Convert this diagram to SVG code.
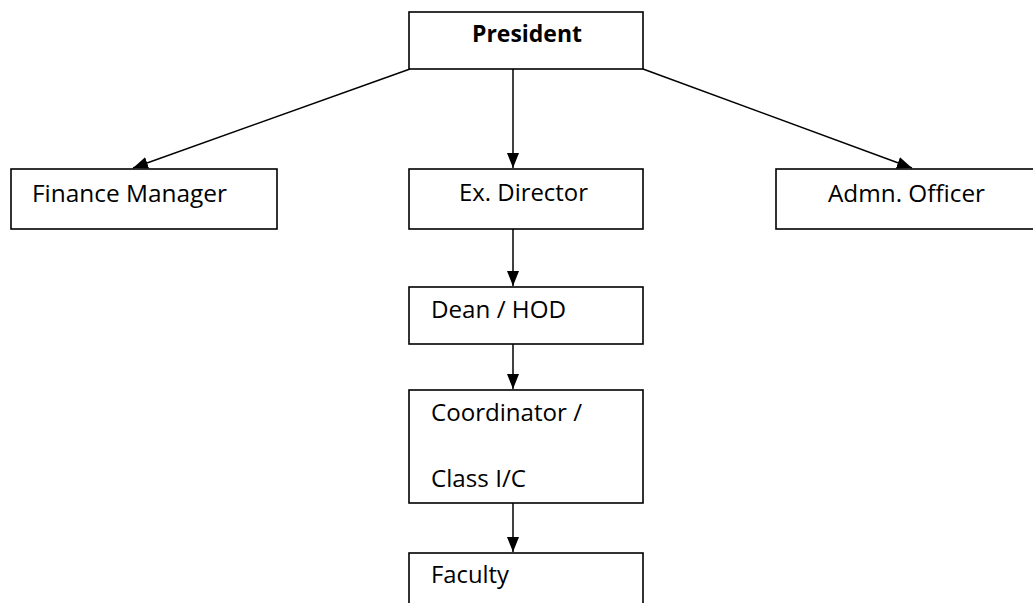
<svg xmlns="http://www.w3.org/2000/svg" width="1033" height="603" viewBox="0 0 1033 603">
<style>
.box{fill:#fff;stroke:#000;stroke-width:1.6}
.t{font-family:"Open Sans","Liberation Sans",sans-serif;font-size:24px;fill:#000}
.b{font-weight:bold}
.c{stroke:#000;stroke-width:1.5;fill:none;marker-end:url(#ah)}
</style>
<defs>
<marker id="ah" markerUnits="userSpaceOnUse" markerWidth="16" markerHeight="14" refX="15" refY="6" orient="auto">
<path d="M0,0 L15,6 L0,12 Z" fill="#000"/>
</marker>
</defs>
<rect width="1033" height="603" fill="#fff"/>
<g id="connectors">
<line class="c" x1="410" y1="69" x2="133" y2="168"/>
<line class="c" x1="513" y1="69" x2="513" y2="168"/>
<line class="c" x1="643" y1="69" x2="912" y2="168"/>
<line class="c" x1="513" y1="229" x2="513" y2="286"/>
<line class="c" x1="513" y1="344" x2="513" y2="389"/>
<line class="c" x1="513" y1="503" x2="513" y2="552"/>
</g>
<g id="president">
<rect class="box" x="409" y="12" width="234" height="57"/>
<text class="t b" x="472" y="42" textLength="110" lengthAdjust="spacingAndGlyphs">President</text>
</g>
<g id="finance">
<rect class="box" x="11" y="169" width="266" height="60"/>
<text class="t" x="32" y="202" textLength="195" lengthAdjust="spacingAndGlyphs">Finance Manager</text>
</g>
<g id="exdirector">
<rect class="box" x="409" y="169" width="234" height="60"/>
<text class="t" x="459" y="201" textLength="129" lengthAdjust="spacingAndGlyphs">Ex. Director</text>
</g>
<g id="admn">
<rect class="box" x="776" y="169" width="270" height="60"/>
<text class="t" x="828" y="202" textLength="157" lengthAdjust="spacingAndGlyphs">Admn. Officer</text>
</g>
<g id="dean">
<rect class="box" x="409" y="287" width="234" height="57"/>
<text class="t" x="431" y="318" textLength="135" lengthAdjust="spacingAndGlyphs">Dean / HOD</text>
</g>
<g id="coordinator">
<rect class="box" x="409" y="390" width="234" height="113"/>
<text class="t" x="431" y="421" textLength="151" lengthAdjust="spacingAndGlyphs">Coordinator /</text>
<text class="t" x="431" y="487" textLength="95" lengthAdjust="spacingAndGlyphs">Class I/C</text>
</g>
<g id="faculty">
<rect class="box" x="409" y="553" width="234" height="60"/>
<text class="t" x="431" y="583" textLength="78" lengthAdjust="spacingAndGlyphs">Faculty</text>
</g>
</svg>
